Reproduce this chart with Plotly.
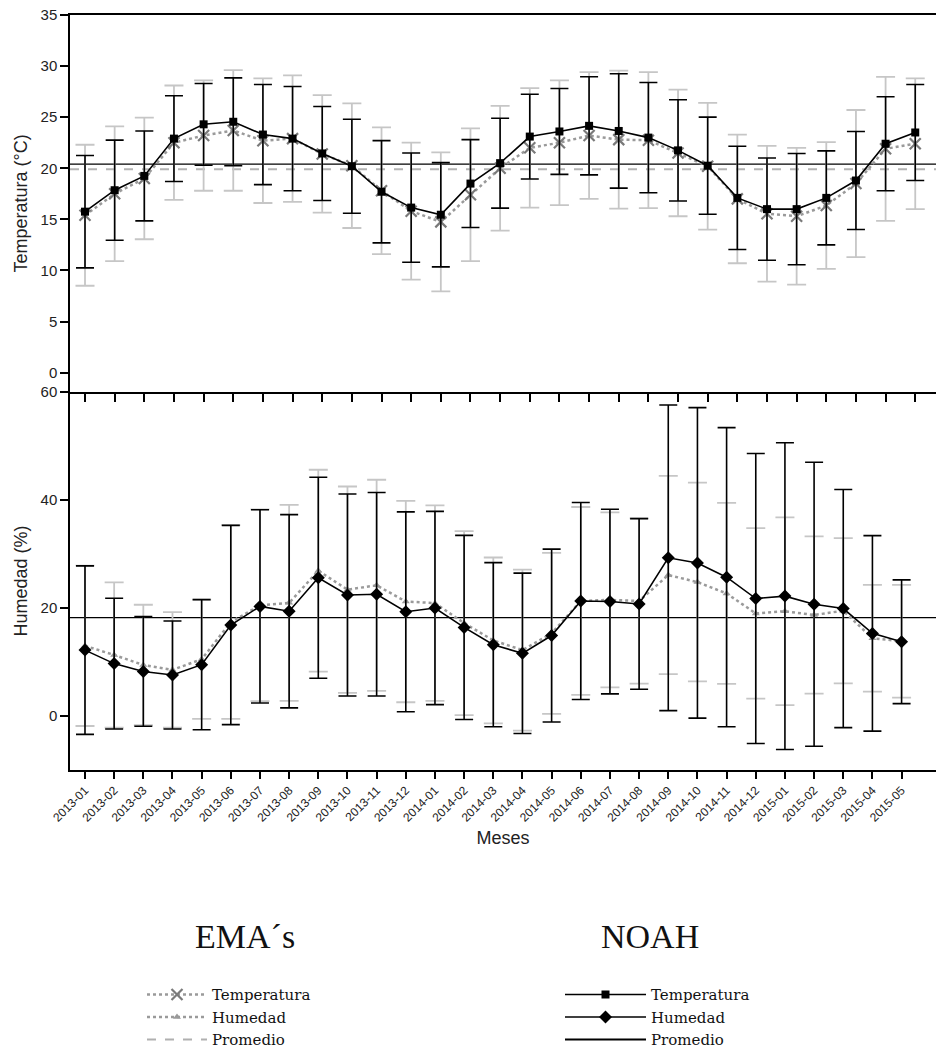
import plotly.graph_objects as go

months = ["2013-01", "2013-02", "2013-03", "2013-04", "2013-05", "2013-06", "2013-07", "2013-08",
          "2013-09", "2013-10", "2013-11", "2013-12", "2014-01", "2014-02", "2014-03", "2014-04",
          "2014-05", "2014-06", "2014-07", "2014-08", "2014-09", "2014-10", "2014-11", "2014-12",
          "2015-01", "2015-02", "2015-03", "2015-04", "2015-05"]

noah_temp = [15.75, 17.85, 19.25, 22.9, 24.3, 24.55, 23.3, 22.9, 21.45, 20.2, 17.7, 16.15, 15.45, 18.5,
             20.5, 23.1, 23.6, 24.15, 23.65, 23.0, 21.75, 20.25, 17.1, 16.0, 16.0, 17.1, 18.8, 22.4, 23.5]
noah_temp_sd = [5.5, 4.9, 4.4, 4.2, 4.0, 4.3, 4.9, 5.1, 4.6, 4.6, 5.0, 5.35, 5.1, 4.3, 4.4, 4.15, 4.2,
                4.8, 5.6, 5.4, 4.95, 4.75, 5.05, 5.0, 5.45, 4.6, 4.8, 4.6, 4.7]
ema_temp = [15.4, 17.5, 19.0, 22.5, 23.2, 23.7, 22.7, 22.9, 21.4, 20.25, 17.8, 15.8, 14.75, 17.4, 20.0,
            22.0, 22.5, 23.2, 22.8, 22.75, 21.5, 20.2, 17.0, 15.55, 15.3, 16.35, 18.5, 21.9, 22.4]
ema_temp_sd = [6.9, 6.6, 5.95, 5.6, 5.4, 5.9, 6.1, 6.2, 5.75, 6.1, 6.2, 6.7, 6.8, 6.5, 6.1, 5.85, 6.1,
               6.2, 6.75, 6.65, 6.2, 6.2, 6.3, 6.65, 6.7, 6.2, 7.2, 7.05, 6.4]

noah_hum = [12.2, 9.7, 8.25, 7.6, 9.5, 16.85, 20.3, 19.4, 25.6, 22.4, 22.55, 19.3, 20.0, 16.4, 13.2,
            11.6, 14.9, 21.3, 21.2, 20.75, 29.3, 28.35, 25.7, 21.75, 22.2, 20.7, 19.9, 15.3, 13.75]
noah_hum_sd = [15.6, 12.1, 10.15, 10.0, 12.05, 18.45, 17.9, 17.9, 18.6, 18.7, 18.85, 18.5, 17.9, 17.05,
               15.2, 14.85, 16.0, 18.25, 17.1, 15.8, 28.3, 28.75, 27.7, 26.85, 28.4, 26.3, 22.05, 18.1, 11.45]
ema_hum = [13.0, 11.3, 9.45, 8.55, 10.5, 17.4, 20.5, 20.95, 26.9, 23.4, 24.2, 21.2, 20.9, 17.2, 14.0,
           12.2, 15.3, 21.3, 21.5, 21.3, 26.1, 24.8, 22.7, 19.0, 19.4, 18.7, 19.5, 14.4, 13.85]
ema_hum_sd = [14.85, 13.45, 11.15, 10.7, 11.05, 17.95, 17.75, 18.15, 18.7, 19.1, 19.55, 18.65, 18.1,
              17.05, 15.35, 14.9, 14.9, 17.4, 16.2, 15.3, 18.35, 18.4, 16.75, 15.8, 17.4, 14.55, 13.45, 9.9, 10.45]

noah_temp_avg = 20.4
ema_temp_avg = 19.9
noah_hum_avg = 18.2

W, H = 936, 1051
SANS = "Liberation Sans, Arial, sans-serif"
SERIF = "DejaVu Serif, Liberation Serif, serif"
GRAY_ERR = "#c6c6c6"
GRAY_MK = "#7a7a7a"
GRAY_LN = "#9a9a9a"

fig = go.Figure()

# --- Top panel: temperature ---
fig.add_trace(go.Scatter(
    x=months, y=ema_temp, xaxis="x", yaxis="y", mode="lines+markers", name="Temperatura",
    legend="legend", legendrank=1,
    line=dict(color=GRAY_LN, width=2.5, dash="dot"),
    marker=dict(symbol="x-thin", size=11, line=dict(color=GRAY_MK, width=2.2), color=GRAY_MK),
    error_y=dict(type="data", array=ema_temp_sd, color=GRAY_ERR, thickness=1.8, width=9.5),
))
fig.add_trace(go.Scatter(
    x=months, y=noah_temp, xaxis="x", yaxis="y", mode="lines+markers", name="Temperatura",
    legend="legend2", legendrank=1,
    line=dict(color="black", width=1.6),
    marker=dict(symbol="square", size=8, color="black"),
    error_y=dict(type="data", array=noah_temp_sd, color="black", thickness=1.6, width=9),
))

# --- Bottom panel: humidity ---
fig.add_trace(go.Scatter(
    x=months, y=ema_hum, xaxis="x2", yaxis="y2", mode="lines+markers", name="Humedad",
    legend="legend", legendrank=2,
    line=dict(color=GRAY_LN, width=2.5, dash="dot"),
    marker=dict(symbol="triangle-up", size=7, color=GRAY_LN),
    error_y=dict(type="data", array=ema_hum_sd, color=GRAY_ERR, thickness=1.8, width=9.5),
))
fig.add_trace(go.Scatter(
    x=months, y=noah_hum, xaxis="x2", yaxis="y2", mode="lines+markers", name="Humedad",
    legend="legend2", legendrank=2,
    line=dict(color="black", width=1.6),
    marker=dict(symbol="diamond", size=10, color="black"),
    error_y=dict(type="data", array=noah_hum_sd, color="black", thickness=1.6, width=9),
))

# legend-only entries for the averages
fig.add_trace(go.Scatter(
    x=[None], y=[None], xaxis="x", yaxis="y", mode="lines", name="Promedio", legend="legend",
    legendrank=3, line=dict(color="#b0b0b0", width=2, dash="dash"),
))
fig.add_trace(go.Scatter(
    x=[None], y=[None], xaxis="x", yaxis="y", mode="lines", name="Promedio", legend="legend2",
    legendrank=3, line=dict(color="black", width=2),
))

# average lines
fig.add_shape(type="line", xref="x domain", yref="y", x0=0, x1=1, y0=ema_temp_avg, y1=ema_temp_avg,
              line=dict(color="#b4b4b4", width=1.8, dash="dash"), layer="below")
fig.add_shape(type="line", xref="x domain", yref="y", x0=0, x1=1, y0=noah_temp_avg, y1=noah_temp_avg,
              line=dict(color="black", width=1.2), layer="below")
fig.add_shape(type="line", xref="x2 domain", yref="y2", x0=0, x1=1, y0=noah_hum_avg, y1=noah_hum_avg,
              line=dict(color="black", width=1.2), layer="below")

x0 = 70 / W
top_dom = [1 - 392 / H, 1 - 15 / H]
bot_dom = [1 - 770 / H, 1 - 392 / H]
tickfont = dict(family=SANS, size=15, color="#222")
titlefont = dict(family=SANS, size=18, color="#222")
axis_common = dict(showline=True, linecolor="black", linewidth=1.5, ticks="outside", ticklen=8,
                   tickwidth=1.5, tickcolor="black", showgrid=False, zeroline=False, tickfont=tickfont,
                   automargin=False)

legend_common = dict(xanchor="left", yanchor="bottom", y=-0.005, bgcolor="rgba(0,0,0,0)", tracegroupgap=0,
                     font=dict(family=SERIF, size=15, color="#111"))

fig.update_layout(
    width=W, height=H, margin=dict(l=0, r=0, t=0, b=0, autoexpand=False),
    paper_bgcolor="white", plot_bgcolor="white",
    xaxis=dict(domain=[x0, 1], anchor="y", type="category", range=[-0.506, 28.70],
               showticklabels=False, mirror=True, **axis_common),
    yaxis=dict(domain=top_dom, anchor="x", range=[-1.9, 35], tickvals=[0, 5, 10, 15, 20, 25, 30, 35],
               title=dict(text="Temperatura (°C)", font=titlefont, standoff=8),
               **axis_common),
    xaxis2=dict(domain=[x0, 1], anchor="y2", type="category", range=[-0.514, 29.18],
                tickangle=-45, title=dict(text="Meses", font=titlefont, standoff=8),
                **{**axis_common, "tickfont": dict(family=SANS, size=12, color="#222"), "ticklen": 7}),
    yaxis2=dict(domain=bot_dom, anchor="x2", range=[-10, 60], tickvals=[0, 20, 40, 60],
                title=dict(text="Humedad (%)", font=titlefont, standoff=8),
                **axis_common),
    legend=dict(x=142 / W, itemwidth=60, **legend_common),
    legend2=dict(x=560 / W, itemwidth=81, **legend_common),
    showlegend=True,
    annotations=[
        dict(text="EMA´s", xref="paper", yref="paper", x=245 / W, y=1 - 936 / H, showarrow=False,
             xanchor="center", yanchor="middle", font=dict(family="Liberation Serif, serif", size=34, color="#111")),
        dict(text="NOAH", xref="paper", yref="paper", x=650 / W, y=1 - 936 / H, showarrow=False,
             xanchor="center", yanchor="middle", font=dict(family="Liberation Serif, serif", size=34, color="#111")),
    ],
)

fig.write_html("out.html", config={"displayModeBar": False},
               post_script="document.body.style.margin='0';document.body.style.overflow='hidden';")
